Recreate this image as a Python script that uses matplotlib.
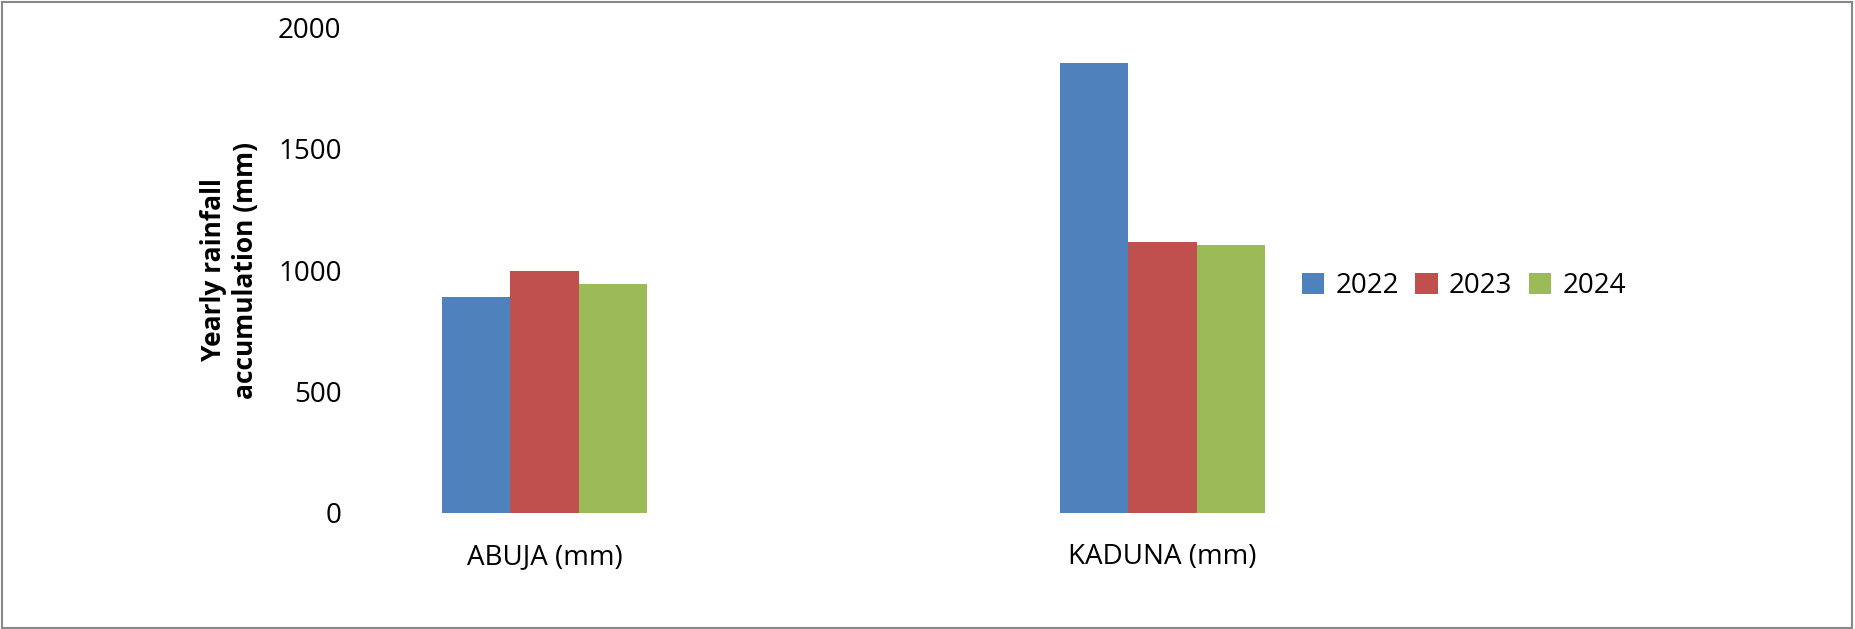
import matplotlib
matplotlib.use("Agg")
import matplotlib.pyplot as plt
import numpy as np

categories = ["ABUJA (mm)", "KADUNA (mm)"]
years = ["2022", "2023", "2024"]
values_2022 = [888, 1854]
values_2023 = [995, 1117]
values_2024 = [941, 1102]
colors = ["#4F81BD", "#C0504D", "#9BBB59"]

plt.rcParams['font.family'] = ['Open Sans', 'DejaVu Sans']
fig = plt.figure(figsize=(18.56, 6.29), dpi=100)
ax = fig.add_axes([0.1945, 0.1846, 0.689 - 0.1945, 0.9567 - 0.1846])
x = np.arange(len(categories))
w = 0.111
for i, (vals, yr) in enumerate(zip([values_2022, values_2023, values_2024], years)):
    ax.bar(x + (i - 1) * w, vals, w, color=colors[i], label=yr)
ax.set_xlim(-0.297, 1.188)
ax.set_ylim(0, 2000)
ax.set_yticks([0, 500, 1000, 1500, 2000])
ax.set_xticks(x)
ax.set_xticklabels(categories, fontsize=20)
ax.tick_params(axis='y', labelsize=20, length=0, pad=14)
ax.tick_params(axis='x', length=0, pad=22)
for s in ax.spines.values():
    s.set_visible(False)
ax.set_ylabel("Yearly rainfall\naccumulation (mm)", fontsize=19, fontweight='bold', labelpad=14)
fig.legend(loc='center left', bbox_to_anchor=(0.688, 0.545), ncol=3, frameon=False,
           fontsize=20, handlelength=0.8, handleheight=0.8, columnspacing=0.6, handletextpad=0.4)
fig.patches.append(plt.Rectangle((0.001, 0.002), 0.997, 0.995, transform=fig.transFigure,
                                 fill=False, edgecolor='#888888', linewidth=1.5))
fig.savefig("out.png", dpi=100)
